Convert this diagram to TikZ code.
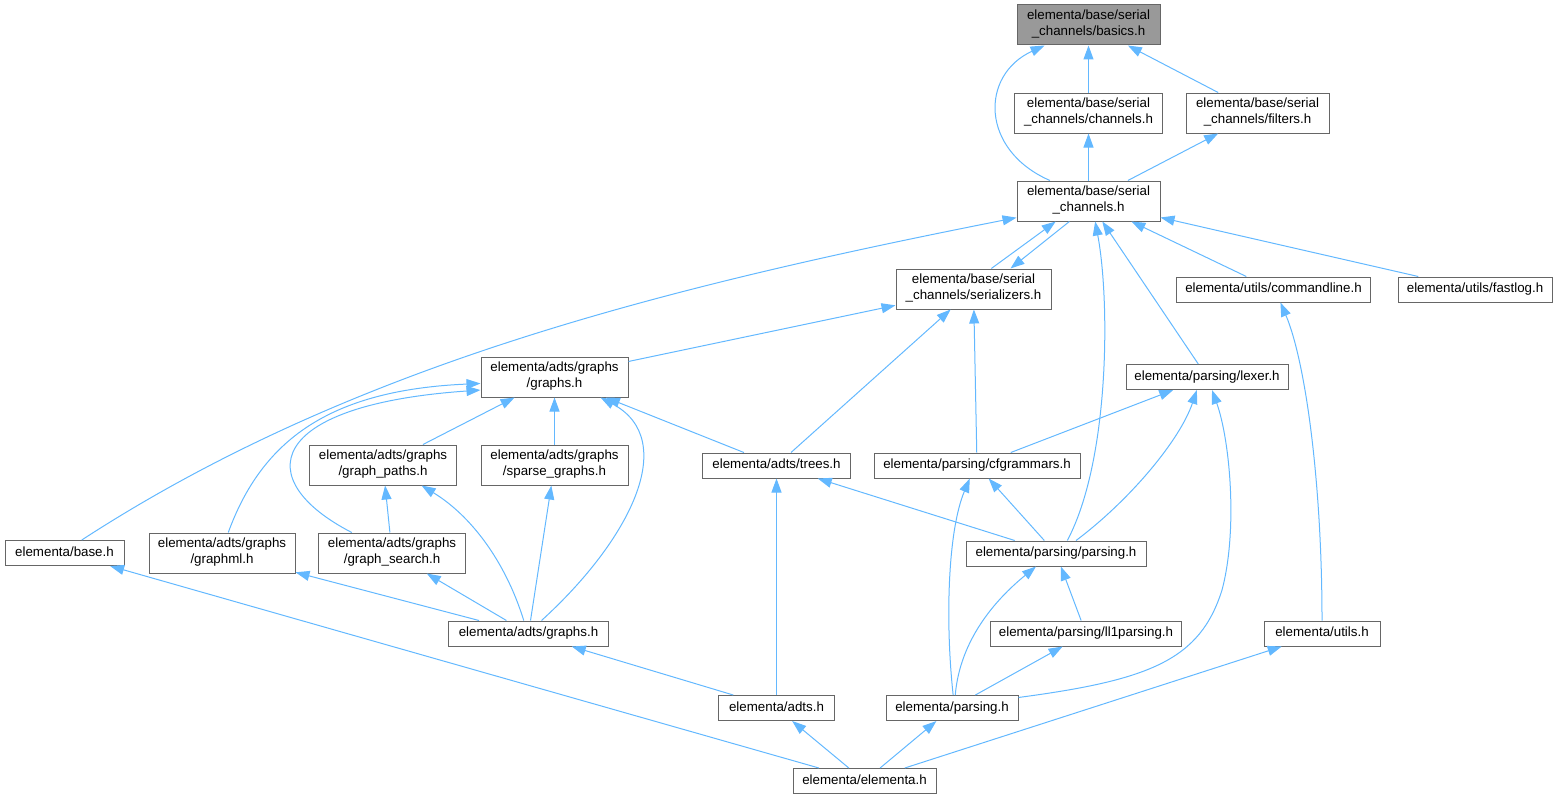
\documentclass[tikz,border=0pt]{standalone}
\usepackage{fontspec}
\setmainfont{Liberation Sans}
\usetikzlibrary{arrows.meta}
\definecolor{edgeblue}{HTML}{63B8FF}
\definecolor{boxgray}{HTML}{666666}
\definecolor{rootgray}{HTML}{999999}
\begin{document}
\begin{tikzpicture} [x = 0.75pt, y = -0.75pt,
  hf/.style = {draw = boxgray, fill = white, line width = 0.75pt, inner sep = 0pt, align = center, minimum height = 18.75pt, font = \fontsize{10}{11.8}\selectfont, execute at begin node = \strut, execute at end node = \strut},
  two/.style = {minimum height = 30pt},
  wd/.style = {minimum width = #1*0.75pt},
  inc/.style = {draw = edgeblue, line width = 0.75pt, -{Triangle[length = 10.5pt, width = 7.5pt]}}]
\useasboundingbox (0,0) rectangle (1558,799);
\node[hf, two, wd = 143, fill = rootgray] (basics) at (1088.5,25) {elementa/base/serial\\\_channels/basics.h};
\node[hf, two, wd = 148] (chan) at (1088.5,113) {elementa/base/serial\\\_channels/channels.h};
\node[hf, two, wd = 143] (filt) at (1257.5,113) {elementa/base/serial\\\_channels/filters.h};
\node[hf, two, wd = 143] (sc) at (1088.5,201) {elementa/base/serial\\\_channels.h};
\node[hf, two, wd = 155] (ser) at (973.5,289) {elementa/base/serial\\\_channels/serializers.h};
\node[hf, wd = 194] (cmd) at (1273.5,289.5) {elementa/utils/commandline.h};
\node[hf, wd = 154] (flog) at (1475,289.5) {elementa/utils/fastlog.h};
\node[hf, two, wd = 147] (gg) at (554.5,377) {elementa/adts/graphs\\/graphs.h};
\node[hf, wd = 162] (lex) at (1207,377) {elementa/parsing/lexer.h};
\node[hf, two, wd = 147] (gp) at (383,465) {elementa/adts/graphs\\/graph\_paths.h};
\node[hf, two, wd = 147] (sg) at (554.5,465) {elementa/adts/graphs\\/sparse\_graphs.h};
\node[hf, wd = 148] (trees) at (776.5,465.5) {elementa/adts/trees.h};
\node[hf, wd = 206] (cfg) at (977,465.5) {elementa/parsing/cfgrammars.h};
\node[hf, wd = 119] (base) at (64.5,553) {elementa/base.h};
\node[hf, two, wd = 146] (gml) at (222,553) {elementa/adts/graphs\\/graphml.h};
\node[hf, two, wd = 147] (gs) at (392,553) {elementa/adts/graphs\\/graph\_search.h};
\node[hf, wd = 180] (pp) at (1056,553.5) {elementa/parsing/parsing.h};
\node[hf, wd = 160] (agr) at (528.5,633.5) {elementa/adts/graphs.h};
\node[hf, wd = 191] (ll1) at (1086,633.5) {elementa/parsing/ll1parsing.h};
\node[hf, wd = 116] (utl) at (1322,633.5) {elementa/utils.h};
\node[hf, wd = 116] (adts) at (776.5,708) {elementa/adts.h};
\node[hf, wd = 132] (prs) at (952,708) {elementa/parsing.h};
\node[hf, wd = 143] (elem) at (864.5,781) {elementa/elementa.h};
\draw[inc] (chan) -- (basics);
\draw[inc] (filt) -- (basics);
\draw[inc] (sc.152) .. controls (980,150) and (980,75) .. (basics.-155);
\draw[inc] (sc) -- (chan);
\draw[inc] (sc) -- (filt);
\draw[inc] (ser.49) -- (sc.-148);
\draw[inc] (sc.-133) -- (ser.29);
\draw[inc] (base.37) .. controls (351,365) and (665,287) .. (sc.-167);
\draw[inc] (pp.49) .. controls (1110,460) and (1110,300) .. (sc.-72);
\draw[inc] (lex) -- (sc);
\draw[inc] (cmd) -- (sc);
\draw[inc] (flog) -- (sc);
\draw[inc] (gg) -- (ser);
\draw[inc] (trees) -- (ser);
\draw[inc] (cfg) -- (ser);
\draw[inc] (gp) -- (gg);
\draw[inc] (sg) -- (gg);
\draw[inc] (trees) -- (gg);
\draw[inc] (gml.73) .. controls (262,440) and (330,390) .. (gg.-175);
\draw[inc] (gs.153) .. controls (250,480) and (265,405) .. (gg.-170);
\draw[inc] (agr.45) .. controls (630,540) and (680,440) .. (gg.-24);
\draw[inc] (gs) -- (gp);
\draw[inc] (agr.110) .. controls (505,560) and (470,515) .. (gp.-28);
\draw[inc] (agr) -- (sg);
\draw[inc] (agr) -- (gml);
\draw[inc] (agr) -- (gs);
\draw[inc] (cfg) -- (lex);
\draw[inc] (pp.33) .. controls (1130,500) and (1180,440) .. (lex.-128);
\draw[inc] (prs.9) .. controls (1150,680) and (1200,660) .. (1222,590) .. controls (1238,530) and (1230,440) .. (lex.-69);
\draw[inc] (pp) -- (cfg);
\draw[inc] (prs.85) .. controls (945,620) and (948,530) .. (cfg.-119);
\draw[inc] (pp) -- (trees);
\draw[inc] (adts) -- (trees);
\draw[inc] (ll1) -- (pp);
\draw[inc] (prs.76) .. controls (960,640) and (995,600) .. (pp.-147);
\draw[inc] (prs) -- (ll1);
\draw[inc] (utl.north) .. controls (1322,480) and (1305,360) .. (cmd.-62);
\draw[inc] (elem) -- (base);
\draw[inc] (adts) -- (agr);
\draw[inc] (elem) -- (adts);
\draw[inc] (elem) -- (prs);
\draw[inc] (elem) -- (utl);
\end{tikzpicture}
\end{document}
